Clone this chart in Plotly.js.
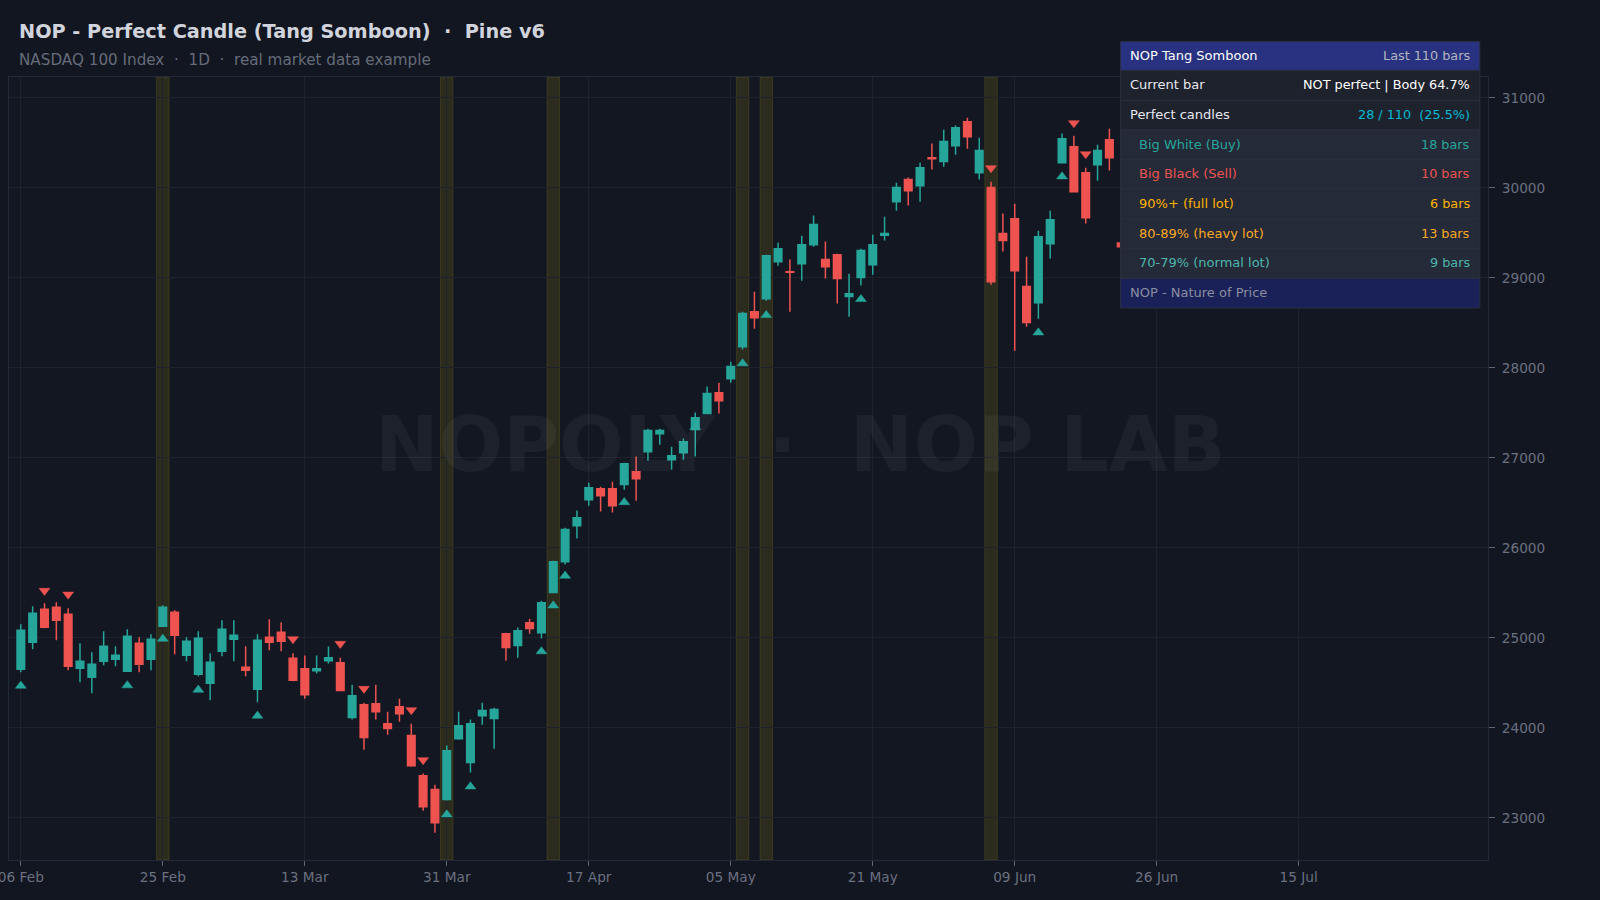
<!DOCTYPE html>
<html>
<head>
<meta charset="utf-8">
<script src="https://cdn.plot.ly/plotly-3.0.1.min.js"></script>
<style>
html, body { margin: 0; padding: 0; background: #121620; overflow: hidden; }
#chart { width: 1600px; height: 900px; }
</style>
</head>
<body>
<div id="chart"></div>
<script>
// values, bars 0..93 (the rest sit behind the table)
const opens = [24652,24952,25318,25340,25263,24663,24563,24741,24763,24630,24941,24763,25130,25285,24808,24597,24497,24852,24985,24674,24430,25007,25063,24774,24659,24637,24748,24726,24115,24259,24270,24048,24237,23915,23470,23315,23204,23881,23615,24137,24104,25048,24915,25170,25059,25504,25848,26248,26537,26659,26659,26704,26848,27070,27270,26981,27059,27315,27493,27726,27881,28237,28626,28770,29181,29070,29159,29370,29204,29259,28793,29004,29148,29474,29848,30093,30026,30337,30293,30470,30737,30170,30004,29493,29659,28904,28726,29381,30281,30459,30170,30259,30537,29389]
const highs = [25152,25352,25385,25396,25329,24941,24841,25074,24907,25096,25007,25041,25363,25307,25007,25074,24830,25196,25196,24907,25041,25207,25174,24830,24804,24804,24904,24781,24481,24281,24481,24181,24326,24048,23493,23370,23804,24181,24093,24281,24226,25059,25115,25210,25414,25859,26226,26415,26726,26681,26737,26948,27015,27326,27326,27126,27215,27504,27793,27837,28070,28626,28848,29259,29393,29204,29470,29693,29404,29270,29048,29326,29481,29681,30059,30115,30281,30493,30648,30693,30781,30559,30070,29715,29826,29237,29526,29748,30604,30581,30226,30481,30659,29430]
const lows = [24619,24874,25107,24974,24641,24508,24386,24697,24686,24630,24619,24641,25125,24819,24741,24575,24308,24797,24741,24575,24286,24863,24852,24519,24326,24604,24715,24410,24093,23759,24093,23926,24070,23570,23081,22837,23193,23870,23504,24037,23770,24748,24781,25048,24993,25500,25815,26104,26470,26404,26393,26648,26526,26970,27148,26870,26981,27015,27490,27493,27837,28204,28437,28748,29137,28626,28970,29348,28993,28715,28570,28915,29037,29415,29748,29804,29848,30204,30237,30370,30437,30093,28926,29293,28190,28459,28548,29215,30275,29955,29604,30081,30193,29300]
const closes = [25085,25274,25118,25196,24686,24741,24708,24907,24808,25018,24708,24985,25340,25030,24963,24996,24730,25096,25030,24641,24974,24952,24963,24530,24370,24659,24781,24415,24359,23893,24181,23993,24159,23581,23126,22948,23748,24026,24048,24193,24204,24893,25081,25104,25392,25848,26204,26337,26670,26581,26470,26937,26770,27304,27304,27026,27181,27448,27715,27637,28015,28604,28559,29248,29326,29063,29370,29593,29126,28993,28826,29304,29370,29493,30004,29970,30226,30326,30515,30670,30570,30415,28959,29415,29081,28504,29459,29648,30548,29959,29670,30415,30337,29348]

const buyBars = [0,9,12,15,20,36,38,44,45,46,51,57,61,63,71,86,88]
const buyPrices = [24468,24472,24990,24424,24135,23038,23349,24850,25360,25690,26508,27342,28050,28586,28764,28393,30127]
const sellBars = [2,4,23,27,29,33,34,82,89,90]
const sellPrices = [25525,25484,24988,24936,24436,24199,23644,30221,30721,30377]

const perfectBars = [12,36,45,61,63,82]

const tickBars = [0,12,24,36,48,60,72,84,96,108]
const tickDates = ['06 Feb','25 Feb','13 Mar','31 Mar','17 Apr','05 May','21 May','09 Jun','26 Jun','15 Jul']
const priceTicks = [23000,24000,25000,26000,27000,28000,29000,30000,31000]

const tableLeft = ['NOP Tang Somboon','Current bar','Perfect candles','Big White (Buy)','Big Black (Sell)','90%+ (full lot)','80-89% (heavy lot)','70-79% (normal lot)','NOP - Nature of Price']
const tableRight = ['Last 110 bars','NOT perfect | Body 64.7%','28 / 110&nbsp;&nbsp;(25.5%)','18 bars','10 bars','6 bars','13 bars','9 bars','']
const leftColors = ['#ffffff','#e6e8ee','#e6e8ee','#26a69a','#ef5350','#ffb300','#f9a825','#4db6ac','#8a8ea0']
const rightColors = ['#b2b5be','#ffffff','#00bcd4','#26a69a','#ef5350','#ffb300','#f9a825','#4db6ac','#8a8ea0']
const rowFills = ['#283280','#1e222d','#1e222d','#252a38','#252a38','#252a38','#252a38','#252a38','#1a2058']
const rowIndent = [0,0,0,1,1,1,1,1,0]

const W = 1600, H = 900
const M = { l: 8.5, r: 111.5, t: 77.3, b: 39.7 }
const FONT = 'DejaVu Sans, sans-serif'

// page pixels to paper fractions, the header and the table are placed by pixel
function px(x) { return (x - M.l) / (W - M.l - M.r) }
function py(y) { return 1 - (y - M.t) / (H - M.t - M.b) }

const xs = opens.map(function (_, i) { return i })

const candles = {
    type: 'candlestick',
    x: xs, open: opens, high: highs, low: lows, close: closes,
    whiskerwidth: 0,
    increasing: { line: { color: '#26a69a', width: 1.5 }, fillcolor: '#26a69a' },
    decreasing: { line: { color: '#ef5350', width: 1.5 }, fillcolor: '#ef5350' },
    showlegend: false,
    hoverinfo: 'skip'
}
const buys = {
    type: 'scatter', mode: 'markers', x: buyBars, y: buyPrices,
    marker: { symbol: 'triangle-up', size: 9.5, color: '#26a69a', line: { width: 0.5, color: '#26a69a' } },
    showlegend: false, hoverinfo: 'skip'
}
const sells = {
    type: 'scatter', mode: 'markers', x: sellBars, y: sellPrices,
    marker: { symbol: 'triangle-down', size: 9.5, color: '#ef5350', line: { width: 0.5, color: '#ef5350' } },
    showlegend: false, hoverinfo: 'skip'
}

const shapes = perfectBars.map(function (b) {
    return {
        type: 'rect', layer: 'below', xref: 'x', yref: 'paper',
        x0: b - 0.53, x1: b + 0.53, y0: 0, y1: 1,
        fillcolor: 'rgba(255,215,0,0.11)',
        line: { color: 'rgba(255,215,0,0.12)', width: 1 }
    }
})

const annotations = [
    { text: '<b>NOP - Perfect Candle (Tang Somboon)  ·  Pine v6</b>', x: px(16.5), y: py(31.4), font: { size: 19.3, color: '#d1d4dc', family: FONT } },
    { text: 'NASDAQ 100 Index  ·  1D  ·  real market data example', x: px(16.5), y: py(60), font: { size: 15.2, color: '#666c7a', family: FONT } },
    { text: '<b>NOPOLY  ·  NOP LAB</b>', x: px(800), y: py(445), xanchor: 'center', font: { size: 76, color: 'rgba(255,255,255,0.045)', family: FONT } }
].map(function (a) {
    return Object.assign({ xref: 'paper', yref: 'paper', xanchor: 'left', yanchor: 'middle', showarrow: false }, a)
})

// table
const rowEdges = [41.7,70.7,100.7,130.3,159.7,189.3,219.3,248.7,278.7,308.3]
const tableX0 = 1120.7, tableX1 = 1480.3
tableLeft.forEach(function (label, r) {
    shapes.push({
        type: 'rect', layer: 'above', xref: 'paper', yref: 'paper',
        x0: px(tableX0), x1: px(tableX1), y0: py(rowEdges[r + 1]), y1: py(rowEdges[r]),
        fillcolor: rowFills[r],
        line: { color: '#2a2f3e', width: 1 }
    })
    const mid = py((rowEdges[r] + rowEdges[r + 1]) / 2 - 0.6)
    annotations.push({
        xref: 'paper', yref: 'paper', showarrow: false, xanchor: 'left', yanchor: 'middle',
        x: px(rowIndent[r] ? 1137.3 : 1128.7), y: mid, text: label,
        font: { size: 13, color: leftColors[r], family: FONT }
    })
    if (tableRight[r]) {
        annotations.push({
            xref: 'paper', yref: 'paper', showarrow: false, xanchor: 'right', yanchor: 'middle',
            x: px(1472.6), y: mid, text: tableRight[r],
            font: { size: 12.8, color: rightColors[r], family: FONT }
        })
    }
})

const layout = {
    width: W, height: H,
    margin: M,
    paper_bgcolor: '#121620',
    plot_bgcolor: '#131722',
    boxgap: 0.2,
    boxgroupgap: 0.2,
    showlegend: false,
    xaxis: {
        range: [-1, 124],
        rangeslider: { visible: false },
        tickmode: 'array', tickvals: tickBars, ticktext: tickDates,
        ticks: 'outside', ticklen: 5, tickwidth: 1, tickcolor: '#5d6475',
        ticklabeloverflow: 'allow',
        tickfont: { size: 13.7, color: '#6b7080', family: FONT },
        showgrid: true, gridcolor: '#1e222d', gridwidth: 1,
        showline: true, mirror: true, linecolor: '#222a3a', linewidth: 1,
        zeroline: false
    },
    yaxis: {
        side: 'right',
        range: [22533, 31233],
        tickmode: 'array', tickvals: priceTicks, ticktext: priceTicks.map(String),
        ticks: 'outside', ticklen: 6, tickwidth: 1, tickcolor: '#5d6475',
        ticklabelstandoff: 4,
        tickfont: { size: 13.7, color: '#6b7080', family: FONT },
        showgrid: true, gridcolor: '#1e222d', gridwidth: 1,
        showline: true, mirror: true, linecolor: '#222a3a', linewidth: 1,
        zeroline: false
    },
    shapes: shapes,
    annotations: annotations
}

Plotly.newPlot('chart', [candles, buys, sells], layout, { displayModeBar: false, staticPlot: true })
</script>
</body>
</html>
